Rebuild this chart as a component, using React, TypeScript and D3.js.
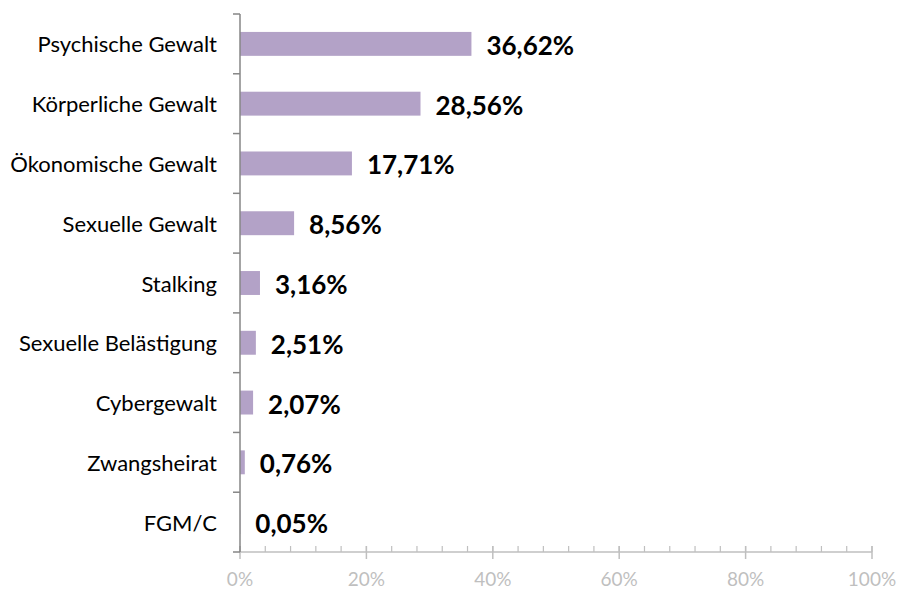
import React from "react";
import * as d3 from "d3";

const categories = [
  "Psychische Gewalt",
  "Körperliche Gewalt",
  "Ökonomische Gewalt",
  "Sexuelle Gewalt",
  "Stalking",
  "Sexuelle Belästigung",
  "Cybergewalt",
  "Zwangsheirat",
  "FGM/C",
];
const values = [36.62, 28.56, 17.71, 8.56, 3.16, 2.51, 2.07, 0.76, 0.05];
const valueLabels = ["36,62%", "28,56%", "17,71%", "8,56%", "3,16%", "2,51%", "2,07%", "0,76%", "0,05%"];
const majorTicks = [0, 20, 40, 60, 80, 100];
const minorTicks = d3.range(0, 101, 4);

const W = 900;
const H = 592;
const left = 240;
const right = 872;
const top = 14;
const bottom = 552;
const font = "Lato, 'Open Sans', sans-serif";

export default function App() {
  const x = d3.scaleLinear().domain([0, 100]).range([left, right]);
  const y = d3.scaleBand<string>().domain(categories).range([top, bottom]).paddingInner(0.6).paddingOuter(0.3);
  const boundaries = d3.range(categories.length + 1).map((i) => top + i * ((bottom - top) / categories.length));

  return (
    <svg width={W} height={H} style={{ position: "absolute", left: 0, top: 0, background: "#fff" }}>
      {categories.map((c, i) => (
        <rect
          key={c}
          x={x(0)}
          y={y(c)!}
          width={Math.max(0, x(values[i]) - x(0))}
          height={y.bandwidth()}
          fill="#b3a2c7"
        />
      ))}
      {/* x axis */}
      <line x1={left} x2={right} y1={bottom} y2={bottom} stroke="#bfbfbf" strokeWidth={1.5} />
      {minorTicks.map((t) => (
        <line key={"m" + t} x1={x(t)} x2={x(t)} y1={bottom - 6} y2={bottom} stroke="#bfbfbf" strokeWidth={1.2} />
      ))}
      {majorTicks.map((t) => (
        <g key={"M" + t}>
          <line x1={x(t)} x2={x(t)} y1={bottom - 6} y2={bottom + 7} stroke="#bfbfbf" strokeWidth={1.5} />
          <text x={x(t)} y={586} textAnchor="middle" fontFamily={font} fontSize={19} fill="#bfbfbf">
            {t}%
          </text>
        </g>
      ))}
      {/* y axis */}
      <line x1={left} x2={left} y1={top} y2={bottom} stroke="#868686" strokeWidth={1.5} />
      {boundaries.map((b, i) => (
        <line key={"b" + i} x1={left - 7} x2={left} y1={b} y2={b} stroke="#868686" strokeWidth={1.5} />
      ))}
      {categories.map((c) => (
        <text
          key={"l" + c}
          x={217}
          y={y(c)! + y.bandwidth() / 2 + 8.5}
          textAnchor="end"
          fontFamily={font}
          fontSize={22}
          fill="#000"
        >
          {c}
        </text>
      ))}
      {categories.map((c, i) => (
        <text
          key={"v" + c}
          x={x(values[i]) + 15}
          y={y(c)! + y.bandwidth() / 2 + 11}
          textAnchor="start"
          fontFamily={font}
          fontSize={26}
          fontWeight="bold"
          fill="#000"
        >
          {valueLabels[i]}
        </text>
      ))}
    </svg>
  );
}
